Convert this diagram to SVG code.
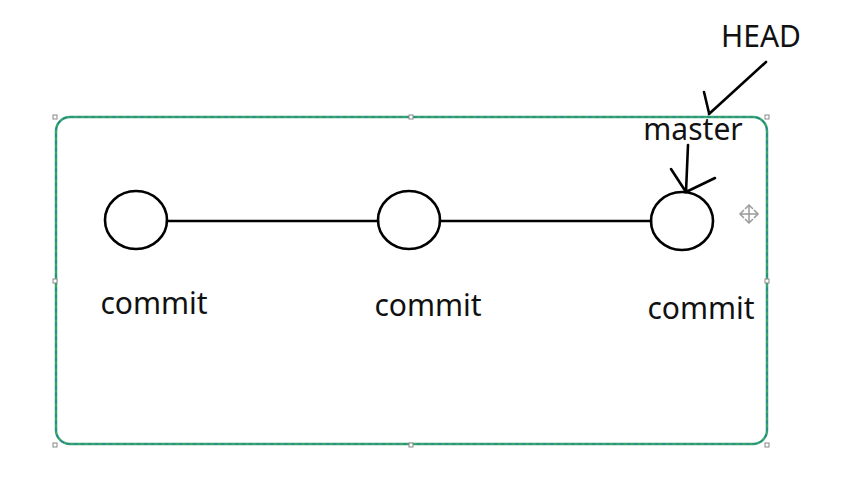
<svg xmlns="http://www.w3.org/2000/svg" width="867" height="491" viewBox="0 0 867 491">
<style>
.node{fill:none;stroke:#000;stroke-width:2.6}
.lbl{font-family:"Noto Sans","Open Sans","Liberation Sans",sans-serif;font-size:30px;fill:#111}
.edge{stroke:#000;stroke-width:2.6;fill:none;stroke-linecap:round}
.h{fill:#fff;stroke:#888;stroke-width:1}
</style>
<rect width="867" height="491" fill="#fff"/>
<g id="frame">
<rect x="56" y="117" width="711" height="327" rx="14" fill="none" stroke="#3aa86a" stroke-width="2.5"/>
<rect x="56" y="117" width="711" height="327" rx="14" fill="none" stroke="#1e7fa0" stroke-width="1.2" stroke-dasharray="4 3"/>
<rect class="h" x="53" y="115" width="4" height="4"/>
<rect class="h" x="409" y="115" width="4" height="4"/>
<rect class="h" x="765" y="115" width="4" height="4"/>
<rect class="h" x="53" y="279" width="4" height="4"/>
<rect class="h" x="765" y="279" width="4" height="4"/>
<rect class="h" x="53" y="443" width="4" height="4"/>
<rect class="h" x="409" y="443" width="4" height="4"/>
<rect class="h" x="765" y="443" width="4" height="4"/>
<g stroke="#999" stroke-width="1.5" fill="none">
<path d="M741 214 H757 M749 206 V222"/>
<path d="M745 209 L749 205 L753 209 M745 219 L749 223 L753 219 M744 210 L740 214 L744 218 M754 210 L758 214 L754 218"/>
</g>
</g>
<g id="connectors">
<line class="edge" x1="167" y1="221" x2="378" y2="221"/>
<line class="edge" x1="440" y1="221" x2="651" y2="221"/>
<path class="edge" d="M766 62 L709 114 M704 92 L709 113"/>
<path class="edge" stroke-width="4.5" d="M688 145 L686 192 M671 169 L686 192 L715 178"/>
</g>
<g id="commit1">
<ellipse class="node" cx="136" cy="220" rx="31" ry="29"/>
<text class="lbl" x="154" y="314" text-anchor="middle">commit</text>
</g>
<g id="commit2">
<ellipse class="node" cx="409" cy="220" rx="31" ry="29"/>
<text class="lbl" x="428" y="316" text-anchor="middle">commit</text>
</g>
<g id="commit3">
<ellipse class="node" cx="682" cy="221" rx="31" ry="29"/>
<text class="lbl" x="701" y="319" text-anchor="middle">commit</text>
</g>
<g id="master">
<text class="lbl" x="693" y="140" text-anchor="middle" font-size="27.5">master</text>
</g>
<g id="head">
<text class="lbl" x="761" y="47" text-anchor="middle" font-size="27.5">HEAD</text>
</g>
</svg>
